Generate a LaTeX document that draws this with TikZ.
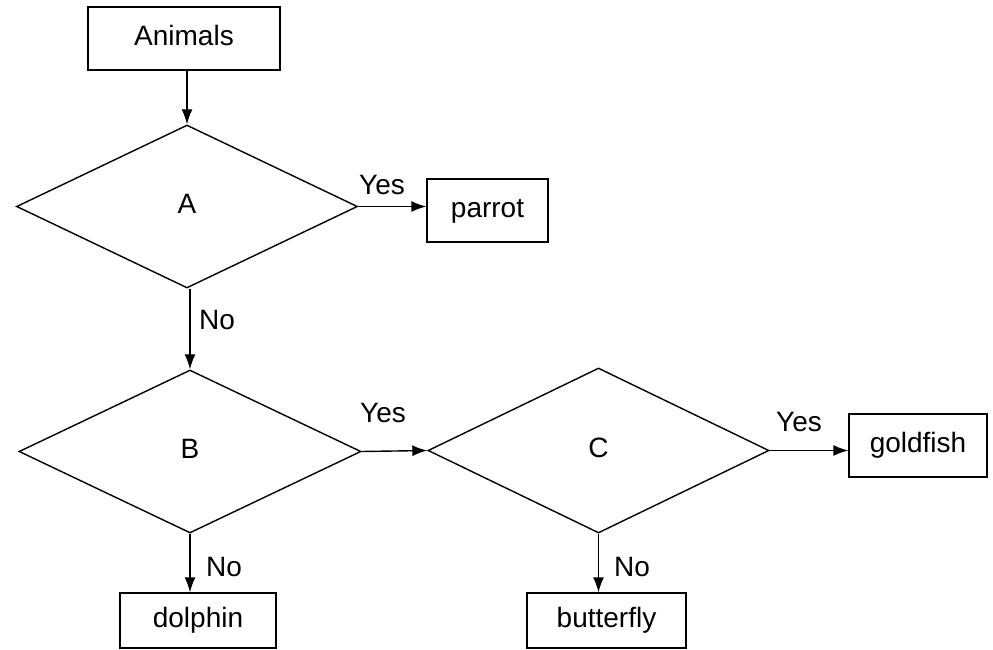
\documentclass[tikz,border=0pt]{standalone}
\usepackage{fontspec}
\setmainfont{Liberation Sans}
\usetikzlibrary{shapes.geometric,arrows.meta}
\begin{document}
\begin{tikzpicture}[x=1pt,y=-1pt,
  txt/.style={font=\fontsize{28}{34}\selectfont,text height=20pt,text depth=6pt},
  box/.style={txt,draw,line width=1.4pt,rectangle,inner sep=0pt},
  dia/.style={txt,draw,line width=1.4pt,diamond,inner sep=0pt},
  lab/.style={txt,inner sep=0pt},
  arr/.style={line width=1.4pt,-{Latex[length=15pt,width=11pt]}}]
\useasboundingbox[fill=white] (0,0) rectangle (993,650);
% boxes
\node[box,minimum width=192pt,minimum height=63pt] (animals) at (184,38.5) {Animals};
\node[box,minimum width=121pt,minimum height=63pt] (parrot) at (487.5,210.5) {parrot};
\node[box,minimum width=138pt,minimum height=63pt] (goldfish) at (918,445.5) {goldfish};
\node[box,minimum width=156pt,minimum height=55pt] (dolphin) at (198,620.5) {dolphin};
\node[box,minimum width=159pt,minimum height=55pt] (butterfly) at (606.5,620.5) {butterfly};
% diamonds
\node[dia,minimum width=341pt,minimum height=163pt] (A) at (187,206.5) {A};
\node[dia,minimum width=342pt,minimum height=163pt] (B) at (190,451.5) {B};
\node[dia,minimum width=341pt,minimum height=165pt] (C) at (598.5,450.5) {C};
% connectors
\draw[arr] (animals.south -| A.north) -- (A.north);
\draw[arr] (A.east) -- (A.east -| parrot.west);
\draw[arr] (A.south -| B.north) -- (B.north);
\draw[arr] (B.east) -- (C.west);
\draw[arr] (C.east) -- (C.east -| goldfish.west);
\draw[arr] (B.south) -- (B.south |- dolphin.north);
\draw[arr] (C.south) -- (C.south |- butterfly.north);
% labels
\node[lab] (yesA) at (382,187) {Yes};
\node[lab] (noA) at (217,322) {No};
\node[lab] (yesB) at (383,415) {Yes};
\node[lab] (yesC) at (799,424) {Yes};
\node[lab] (noB) at (224,569) {No};
\node[lab] (noC) at (632,569) {No};
\end{tikzpicture}
\end{document}
